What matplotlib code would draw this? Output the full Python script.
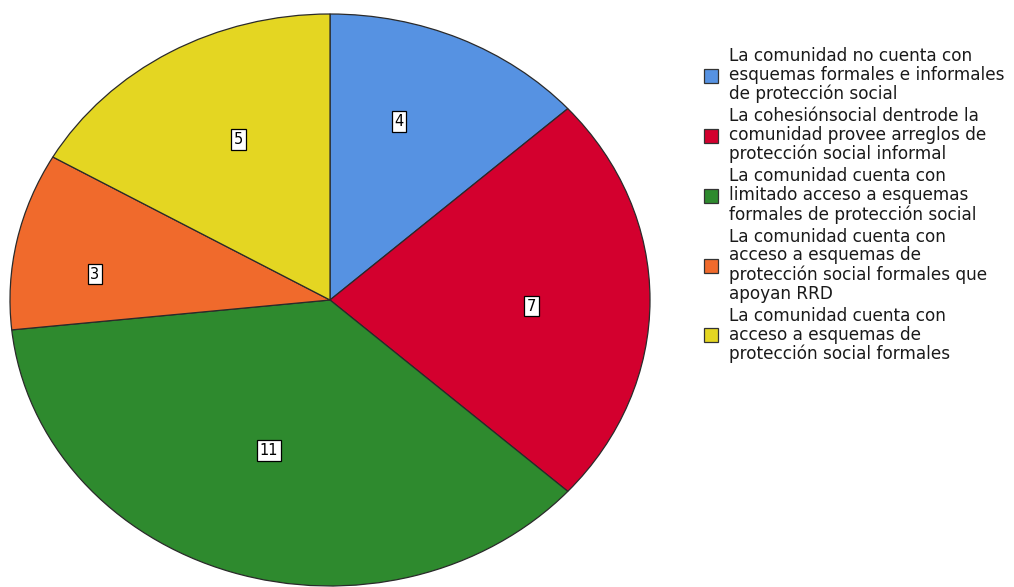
import matplotlib.pyplot as plt
import numpy as np
from matplotlib.patches import Rectangle

categories = [
    "La comunidad no cuenta con\nesquemas formales e informales\nde protección social",
    "La cohesiónsocial dentrode la\ncomunidad provee arreglos de\nprotección social informal",
    "La comunidad cuenta con\nlimitado acceso a esquemas\nformales de protección social",
    "La comunidad cuenta con\nacceso a esquemas de\nprotección social formales que\napoyan RRD",
    "La comunidad cuenta con\nacceso a esquemas de\nprotección social formales",
]
counts = [4, 7, 11, 3, 5]
colors = ["#5692e2", "#d3002e", "#2e8a2e", "#f06a2c", "#e4d622"]
# radial position and small angular shift (degrees) of each value label
label_radius = [0.66, 0.63, 0.56, 0.74, 0.63]
label_shift = [5, -2, -2, 5, -3]

W, H = 1014, 587
fig = plt.figure(figsize=(W / 100, H / 100), dpi=100)
fig.patch.set_facecolor("white")

# elliptical pie: axes box is wider than tall and aspect is left free
ax = fig.add_axes([10 / W, 1 / H, 640 / W, 572 / H])
wedges, _ = ax.pie(
    counts,
    colors=colors,
    startangle=90,
    counterclock=False,
    wedgeprops=dict(edgecolor="#2a2a2a", linewidth=0.9),
)
ax.set_aspect("auto")
ax.set_xlim(-1.0, 1.0)
ax.set_ylim(-1.0, 1.0)
ax.axis("off")

for w, n, r, d in zip(wedges, counts, label_radius, label_shift):
    mid = np.deg2rad((w.theta1 + w.theta2) / 2 + d)
    ax.text(
        r * np.cos(mid), r * np.sin(mid), str(n),
        ha="center", va="center", fontsize=10.5, color="black",
        bbox=dict(boxstyle="square,pad=0.18", facecolor="white",
                  edgecolor="black", linewidth=0.9),
    )

# legend drawn by hand so line spacing and gaps can be controlled
fig.canvas.draw()
renderer = fig.canvas.get_renderer()
top = 47
for label, c in zip(categories, colors):
    t = fig.text(729 / W, 1 - top / H, label, ha="left", va="top",
                 fontsize=12.2, linespacing=1.06, color="#1a1a1a")
    bb = t.get_window_extent(renderer)
    height = bb.height
    center = top + height / 2
    fig.patches.append(Rectangle(
        (704 / W, 1 - (center + 7.5) / H), 14 / W, 14 / H,
        transform=fig.transFigure, facecolor=c, edgecolor="#333333",
        linewidth=0.9,
    ))
    top += height + 4

fig.savefig("out.png", dpi=100, facecolor="white")
